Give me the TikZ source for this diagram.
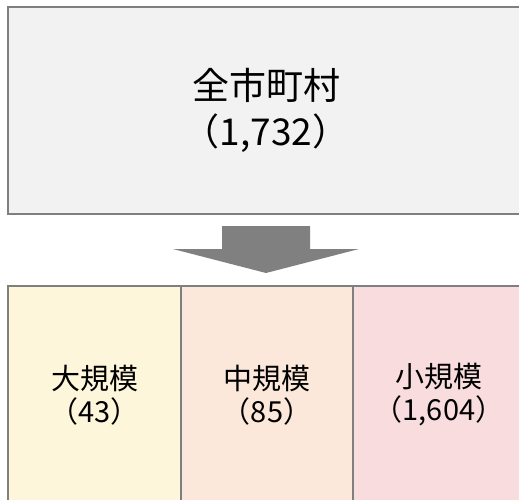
\documentclass[tikz,border=0pt]{standalone}
\usepackage{fontspec}
\setmainfont{Noto Sans CJK JP}
\usetikzlibrary{positioning}
\definecolor{boxline}{HTML}{7F7F7F}
\definecolor{allfill}{HTML}{F2F2F2}
\definecolor{largefill}{HTML}{FEF6DA}
\definecolor{midfill}{HTML}{FBE8DA}
\definecolor{smallfill}{HTML}{F9DCDE}
\definecolor{arrowfill}{HTML}{808080}

\begin{document}
\begin{tikzpicture}[x=1pt, y=-1pt,
			line join=miter,
			every node/.style = {inner sep=0pt, outer sep=0pt, align=center},
			box/.style = {rectangle, draw=boxline, line width=1.4pt},
			topfont/.style = {font=\fontsize{37}{46}\selectfont},
			subfont/.style = {font=\fontsize{29}{33}\selectfont}
			]
			\useasboundingbox (0,0) rectangle (519,500);
			\clip (0,0) rectangle (519,500);
			\node[box, fill=allfill, topfont, anchor=north west,
				minimum width=516, minimum height=207] (all) at (8,7)
				{全市町村\\（1,732）};
			\fill[arrowfill] (all.south) ++(-44,12) -- ++(88,0) -- ++(0,23) --
				++(49,0) -- ++(-93,24) -- ++(-93,-24) -- ++(49,0) -- cycle;
			\node[box, fill=largefill, subfont, anchor=north west,
				minimum width=173, minimum height=218] (large) at (8,286)
				{大規模\\（43）};
			\node[box, fill=midfill, subfont, right=0pt of large,
				minimum width=172, minimum height=218] (mid)
				{中規模\\（85）};
			\node[box, fill=smallfill, subfont, right=0pt of mid,
				minimum width=172, minimum height=218] (small)
				{小規模\\（1,604）};
		\end{tikzpicture}
\end{document}
